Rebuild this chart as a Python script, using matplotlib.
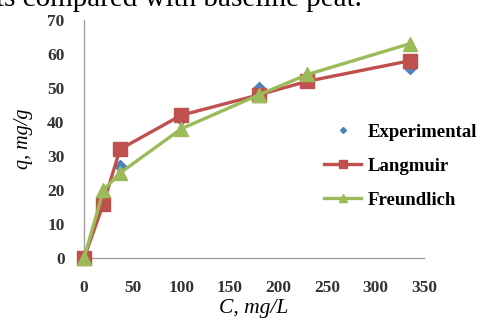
import numpy as np
import matplotlib.pyplot as plt

# valores
c_exp = [0, 20, 37, 100, 180, 230, 335]
q_exp = [0, 18, 27, 41, 50, 53, 56]
c_lang = [0, 20, 37, 100, 180, 230, 335]
q_lang = [0, 16, 32, 42, 48, 52, 58]
c_freu = [0, 20, 37, 100, 180, 230, 335]
q_freu = [0, 20, 25, 38, 48, 54, 63]

xticks = [0, 50, 100, 150, 200, 250, 300, 350]
yticks = [0, 10, 20, 30, 40, 50, 60, 70]

plt.rcParams['font.family'] = ['Liberation Serif', 'DejaVu Serif']

fig = plt.figure(figsize=(4.83, 3.23), dpi=100)
ax = fig.add_axes([0.174, 0.201, 0.704, 0.737])

# series
ax.plot(c_exp, q_exp, linestyle='none', marker='D', markersize=6,
        color='#4F81BD', label='Experimental', zorder=2, clip_on=False)
ax.plot(c_lang, q_lang, color='#C0504D', linewidth=2.4, marker='s',
        markersize=10.5, label='Langmuir', zorder=3, clip_on=False)
ax.plot(c_freu, q_freu, color='#9BBB59', linewidth=2.4, marker='^',
        markersize=10.5, label='Freundlich', zorder=4, clip_on=False)

ax.set_xlim(0, 350)
ax.set_ylim(0, 70)
ax.set_xticks(xticks)
ax.set_yticks(yticks)
ax.tick_params(axis='y', length=0, labelsize=12.5, pad=14)
ax.tick_params(axis='x', length=0, labelsize=12.5, pad=16)
for lab in ax.get_xticklabels() + ax.get_yticklabels():
    lab.set_fontweight('bold')
    lab.set_color('#333333')

for s in ['top', 'right']:
    ax.spines[s].set_visible(False)
for s in ['left', 'bottom']:
    ax.spines[s].set_color('#A0A0A0')
    ax.spines[s].set_linewidth(1)

ax.set_xlabel('C, mg/L', fontstyle='italic', fontsize=15.5, labelpad=2)
ax.set_ylabel('q, mg/g', fontstyle='italic', fontsize=14.5, labelpad=10)

leg = ax.legend(loc='center left', bbox_to_anchor=(0.705, 0.385), frameon=False,
                prop={'weight': 'bold', 'size': 13.5}, handlelength=2.0,
                labelspacing=0.9, handletextpad=0.35, markerscale=0.5,
                borderaxespad=0, borderpad=0)

# texto cortado arriba (pie de figura del documento)
fig.text(0.75, 1 - 6 / 323, 'ts compared with baseline peat.', ha='right',
         va='baseline', fontsize=21)

fig.savefig('out.png', dpi=100)
